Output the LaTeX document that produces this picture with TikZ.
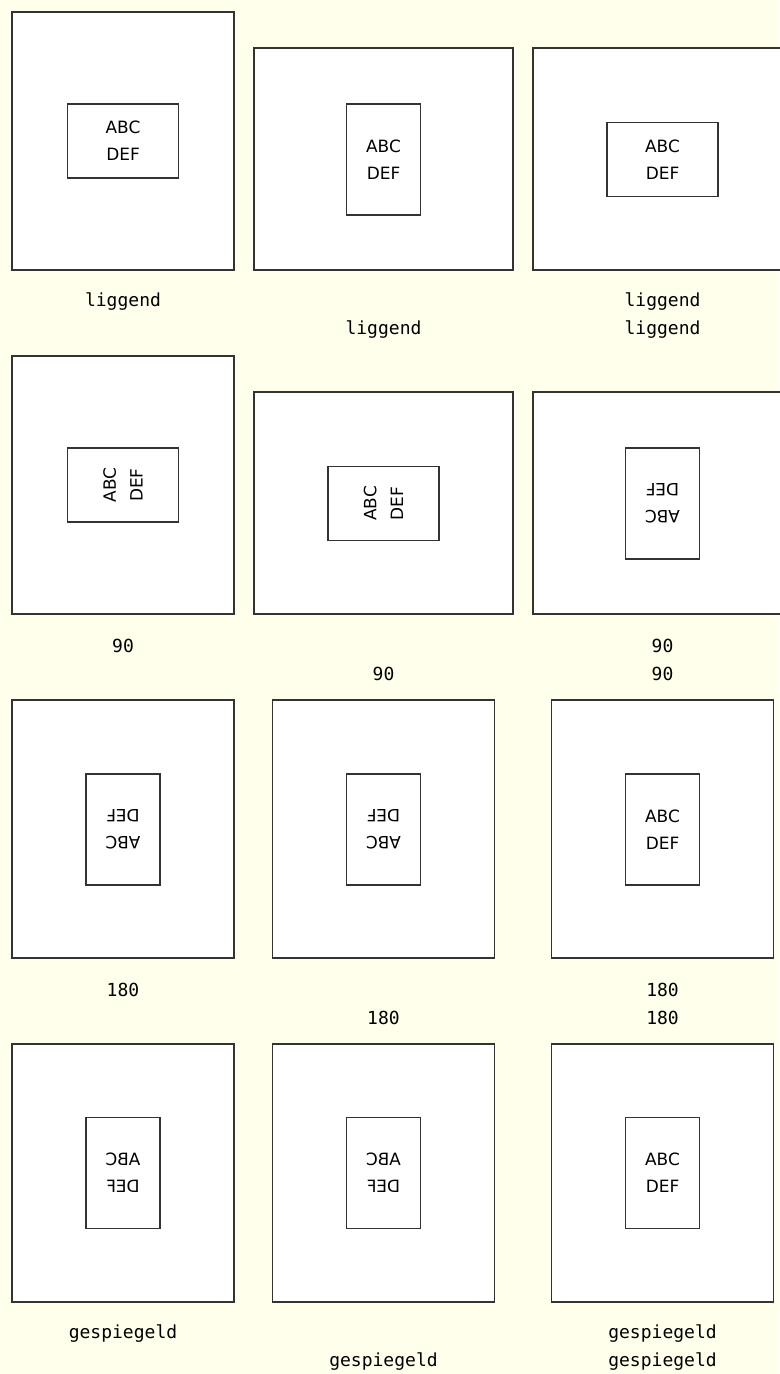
\documentclass[tikz,border=0pt]{standalone}
\usepackage{fontspec}
\setmainfont{DejaVu Sans}
\newfontfamily\labelfont{DejaVu Sans Mono}
\definecolor{bgyellow}{HTML}{FFFFEC}
\definecolor{edgegray}{HTML}{333333}
\tikzset{
  outerland/.style={draw=edgegray, line width=0.8pt, fill=white, minimum width=194.25pt, minimum height=166.5pt, inner sep=0pt},
  outerport/.style={draw=edgegray, line width=0.8pt, fill=white, minimum width=166.5pt, minimum height=193.5pt, inner sep=0pt},
  innerland/.style={draw=edgegray, line width=0.8pt, minimum width=83.25pt, minimum height=55.5pt, inner sep=0pt},
  innerport/.style={draw=edgegray, line width=0.8pt, minimum width=55.5pt, minimum height=83.25pt, inner sep=0pt},
  boxtext/.style={font=\fontsize{12.7}{20}\selectfont, align=center, inner sep=0pt},
  lbl/.style={font=\labelfont\fontsize{13.5}{21}\selectfont, align=center, inner sep=0pt}
}
\begin{document}
\begin{tikzpicture}[x=0.75pt, y=-0.75pt]
\useasboundingbox[fill=bgyellow] (0,0) rectangle (779,1374);
% ---------- row 1 ----------
\node[outerport] (o1a) at (123,141) {};
\node[outerland] (o1b) at (383.5,159) {};
\node[outerland] (o1c) at (662.5,159) {};
\node[innerland] (i1a) at (o1a.center) {};
\node[innerport] (i1b) at (383.5,159.5) {};
\node[innerland] (i1c) at (662.5,159.5) {};
\node[boxtext] (t1a) at (i1a.center) {ABC\\DEF};
\node[boxtext] (t1b) at (i1b.center) {ABC\\DEF};
\node[boxtext] (t1c) at (i1c.center) {ABC\\DEF};
\node[lbl] (l1a) at (123,302) {liggend};
\node[lbl] (l1b) at (383.5,330) {liggend};
\node[lbl] (l1c) at (662.5,316) {liggend\\liggend};
% ---------- row 2 ----------
\node[outerport] (o2a) at (123,485) {};
\node[outerland] (o2b) at (383.5,503) {};
\node[outerland] (o2c) at (662.5,503) {};
\node[innerland] (i2a) at (o2a.center) {};
\node[innerland] (i2b) at (383.5,503.5) {};
\node[innerport] (i2c) at (662.5,503.5) {};
\node[boxtext, rotate=90] (t2a) at (i2a.center) {ABC\\DEF};
\node[boxtext, rotate=90] (t2b) at (i2b.center) {ABC\\DEF};
\node[boxtext, rotate=180] (t2c) at (i2c.center) {ABC\\DEF};
\node[lbl] (l2a) at (123,646) {90};
\node[lbl] (l2b) at (383.5,674) {90};
\node[lbl] (l2c) at (662.5,660) {90\\90};
% ---------- row 3 ----------
\node[outerport] (o3a) at (123,829) {};
\node[outerport] (o3b) at (383.5,829) {};
\node[outerport] (o3c) at (662.25,829) {};
\node[innerport] (i3a) at (123,829.5) {};
\node[innerport] (i3b) at (383.5,829.5) {};
\node[innerport] (i3c) at (662.5,829.5) {};
\node[boxtext, rotate=180] (t3a) at (i3a.center) {ABC\\DEF};
\node[boxtext, rotate=180] (t3b) at (i3b.center) {ABC\\DEF};
\node[boxtext] (t3c) at (i3c.center) {ABC\\DEF};
\node[lbl] (l3a) at (123,990) {180};
\node[lbl] (l3b) at (383.5,1018) {180};
\node[lbl] (l3c) at (662.5,1004) {180\\180};
% ---------- row 4 ----------
\node[outerport] (o4a) at (123,1173) {};
\node[outerport] (o4b) at (383.5,1173) {};
\node[outerport] (o4c) at (662.25,1173) {};
\node[innerport] (i4a) at (123,1173) {};
\node[innerport] (i4b) at (383.5,1173) {};
\node[innerport] (i4c) at (662.5,1173) {};
\node[boxtext, xscale=-1] (t4a) at (i4a.center) {ABC\\DEF};
\node[boxtext, xscale=-1] (t4b) at (i4b.center) {ABC\\DEF};
\node[boxtext] (t4c) at (i4c.center) {ABC\\DEF};
\node[lbl] (l4a) at (123,1334) {gespiegeld};
\node[lbl] (l4b) at (383.5,1362) {gespiegeld};
\node[lbl] (l4c) at (662.5,1348) {gespiegeld\\gespiegeld};
\end{tikzpicture}
\end{document}
